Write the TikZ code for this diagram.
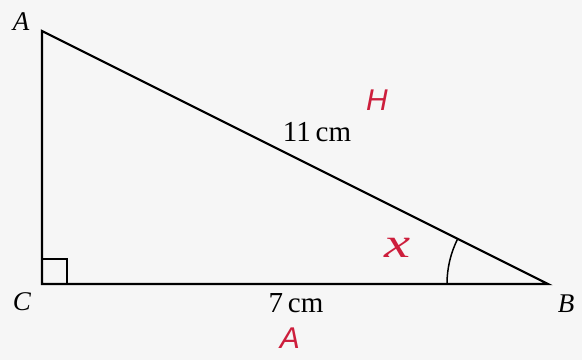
\documentclass[tikz,border=0pt]{standalone}
\usepackage{fontspec}
\setmainfont{Liberation Serif}
\newfontfamily\handfont{Liberation Sans}
\definecolor{pen}{RGB}{205,30,60}
\definecolor{paper}{RGB}{246,246,246}
\begin{document}
\begin{tikzpicture}[x=1pt,y=1pt,
  edge/.style={line width=2.2pt,line join=miter},
  vlabel/.style={font=\fontsize{27}{27}\selectfont\itshape},
  mlabel/.style={font=\fontsize{29}{29}\selectfont},
  hand/.style={text=pen,font=\handfont\fontsize{30}{30}\selectfont}]
\fill[paper] (0,0) rectangle (582,360);
\useasboundingbox (0,0) rectangle (582,360);
\coordinate (A) at (42,329);
\coordinate (C) at (42,76);
\coordinate (B) at (548,76);
\draw[edge] (A) -- (C) -- (B) -- cycle;
\draw[line width=1.6pt] ([yshift=25]C) -| ([xshift=25]C);
\draw[line width=1.5pt] ([xshift=-101]B) arc[start angle=180,end angle=153.5,radius=101];
\node[vlabel] (la) at (21,338) {A};
\node[vlabel] (lc) at (22,58) {C};
\node[vlabel] (lb) at (566,56) {B};
\node[mlabel] (l11) at (317,228) {11\,cm};
\node[mlabel] (l7) at (296,57) {7\,cm};
\node[hand] (h) at (377,260) {\itshape H};
\node[hand,font=\fontsize{42}{42}\selectfont\itshape,xscale=1.4,transform shape] (x) at (398,112) {x};
\node[hand] (ra) at (290,22) {\itshape A};
\end{tikzpicture}
\end{document}
